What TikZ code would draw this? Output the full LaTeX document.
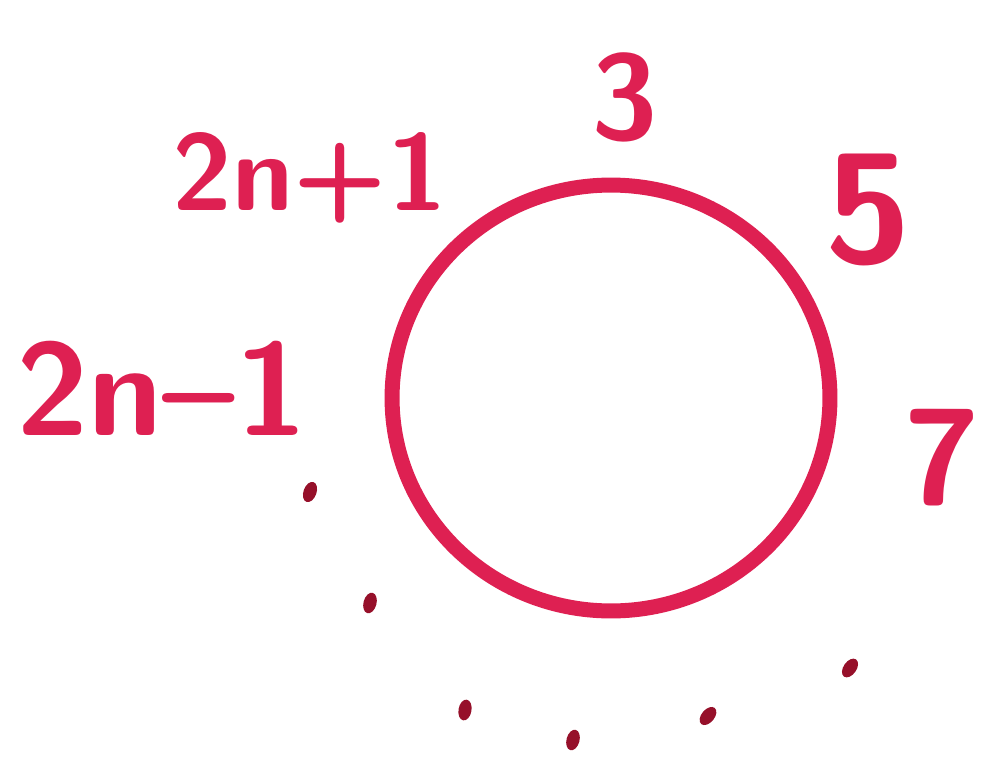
\documentclass[tikz,border=0pt]{standalone}
\usepackage{tikz}
\usetikzlibrary{shapes.geometric}
\definecolor{inkred}{RGB}{222,32,82}
\definecolor{inkdark}{RGB}{150,16,42}
\begin{document}
\begin{tikzpicture}[
  x=0.02cm, y=-0.02cm,
  numtxt/.style={text=inkred, font=\sffamily\bfseries, inner sep=0pt},
  ring/.style={draw=inkred, line width=0.3cm, ellipse, minimum width=8.76cm, minimum height=8.52cm, inner sep=0pt},
]
\useasboundingbox (0,0) rectangle (1000,757);
\node[ring] (ring) at (611,398) {};
\node[numtxt, font=\sffamily\bfseries\fontsize{69}{69}\selectfont] (three) at (625,97) {3};
\node[numtxt, font=\sffamily\bfseries\fontsize{89}{89}\selectfont] (five) at (868,210) {5};
\node[numtxt, font=\sffamily\bfseries\fontsize{78}{78}\selectfont] (seven) at (942,458) {7};
\node[numtxt, font=\sffamily\bfseries\fontsize{62}{62}\selectfont] (top) at (310,178) {2n+1};
\node[numtxt, font=\sffamily\bfseries\fontsize{75}{75}\selectfont] (left) at (162,388) {2n--1};
% dots round the bottom
\foreach \px/\py/\rot in {310/492/-20, 370/603/-15, 465/710/-10, 573/740/-15, 708/716/-40, 850/668/-35}
  \fill[inkdark, rotate around={\rot:(\px,\py)}] (\px,\py) ellipse [x radius=0.13cm, y radius=0.21cm];
\end{tikzpicture}
\end{document}
